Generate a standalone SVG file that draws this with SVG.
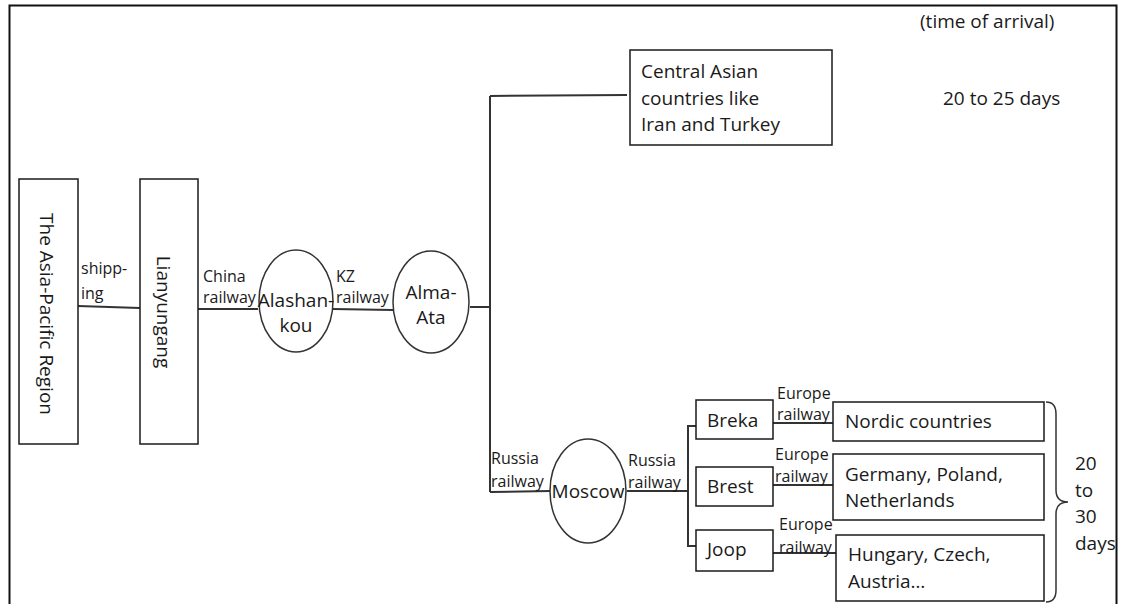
<svg xmlns="http://www.w3.org/2000/svg" width="1121" height="604" viewBox="0 0 1121 604">
<style>
.box{fill:#fff;stroke:#1a1a1a;stroke-width:1.5}
.ell{fill:#fff;stroke:#333;stroke-width:1.5}
.ln{fill:none;stroke:#333;stroke-width:2}
.t{font-family:"Open Sans","Liberation Sans",sans-serif;font-size:19px;fill:#1a1a1a}
.s{font-family:"Open Sans","Liberation Sans",sans-serif;font-size:16px;fill:#1a1a1a}
.c{text-anchor:middle}
</style>
<rect width="1121" height="604" fill="#fff"/>
<path d="M9.5,604 V5.5 H1116.5 V604" fill="none" stroke="#111" stroke-width="2"/>
<g id="connectors">
<path class="ln" d="M78,306 L140,308"/>
<path class="ln" d="M198,309 L258,309"/>
<path class="ln" d="M333,309 L393,310"/>
<path class="ln" d="M470,307 H490"/>
<path class="ln" d="M490,96 V492"/>
<path class="ln" d="M490,96 L627,95"/>
<path class="ln" d="M490,492 L550,491"/>
<path class="ln" d="M627,491 H688"/>
<path class="ln" d="M696,426 H688 V546 H696"/>
<path class="ln" d="M773,423 H833"/>
<path class="ln" d="M773,485 H833"/>
<path class="ln" d="M773,553 H836"/>
<path fill="none" stroke="#333" stroke-width="1.5" d="M1046,402 Q1056,402 1056,414 V490 Q1056,502 1068,502 Q1056,502 1056,514 V590 Q1056,602 1046,602"/>
<text class="s" x="81" y="274">shipp-</text>
<text class="s" x="81" y="299">ing</text>
<text class="s" x="203" y="282">China</text>
<text class="s" x="203" y="303">railway</text>
<text class="s" x="336" y="282">KZ</text>
<text class="s" x="336" y="303">railway</text>
<text class="s" x="491" y="464">Russia</text>
<text class="s" x="491" y="487">railway</text>
<text class="s" x="628" y="466">Russia</text>
<text class="s" x="628" y="488">railway</text>
<text class="s" x="777" y="399">Europe</text>
<text class="s" x="777" y="420">railway</text>
<text class="s" x="775" y="460">Europe</text>
<text class="s" x="775" y="482">railway</text>
<text class="s" x="779" y="530">Europe</text>
<text class="s" x="779" y="553">railway</text>
</g>
<g id="asia-pacific">
<rect class="box" x="19" y="179" width="59" height="265"/>
<text class="t c" transform="translate(40,314) rotate(90)">The Asia-Pacific Region</text>
</g>
<g id="lianyungang">
<rect class="box" x="140" y="179" width="58" height="265"/>
<text class="t c" transform="translate(157,312) rotate(90)">Lianyungang</text>
</g>
<g id="alashankou">
<ellipse class="ell" cx="296" cy="301" rx="37" ry="51"/>
<text class="t c" x="296" y="307">Alashan-</text>
<text class="t c" x="296" y="332">kou</text>
</g>
<g id="alma-ata">
<ellipse class="ell" cx="431" cy="302" rx="38" ry="51"/>
<text class="t c" x="431" y="299">Alma-</text>
<text class="t c" x="431" y="324">Ata</text>
</g>
<g id="central-asian">
<rect class="box" x="630" y="50" width="202" height="95"/>
<text class="t" x="641" y="78">Central Asian</text>
<text class="t" x="641" y="105">countries like</text>
<text class="t" x="641" y="131">Iran and Turkey</text>
</g>
<g id="moscow">
<ellipse class="ell" cx="588" cy="491" rx="38" ry="52"/>
<text class="t c" x="588" y="498">Moscow</text>
</g>
<g id="breka">
<rect class="box" x="696" y="400" width="77" height="39"/>
<text class="t" x="707" y="427">Breka</text>
</g>
<g id="brest">
<rect class="box" x="696" y="467" width="77" height="39"/>
<text class="t" x="707" y="493">Brest</text>
</g>
<g id="joop">
<rect class="box" x="696" y="530" width="77" height="41"/>
<text class="t" x="707" y="556">Joop</text>
</g>
<g id="nordic">
<rect class="box" x="833" y="402" width="211" height="39"/>
<text class="t" x="845" y="428">Nordic countries</text>
</g>
<g id="germany">
<rect class="box" x="833" y="454" width="211" height="66"/>
<text class="t" x="845" y="481">Germany, Poland,</text>
<text class="t" x="845" y="507">Netherlands</text>
</g>
<g id="hungary">
<rect class="box" x="836" y="535" width="208" height="66"/>
<text class="t" x="848" y="561">Hungary, Czech,</text>
<text class="t" x="848" y="588">Austria…</text>
</g>
<g id="times">
<text class="t" x="920" y="28">(time of arrival)</text>
<text class="t" x="943" y="105">20 to 25 days</text>
<text class="t" x="1075" y="470">20</text>
<text class="t" x="1075" y="497">to</text>
<text class="t" x="1075" y="523">30</text>
<text class="t" x="1075" y="550">days</text>
</g>
</svg>
